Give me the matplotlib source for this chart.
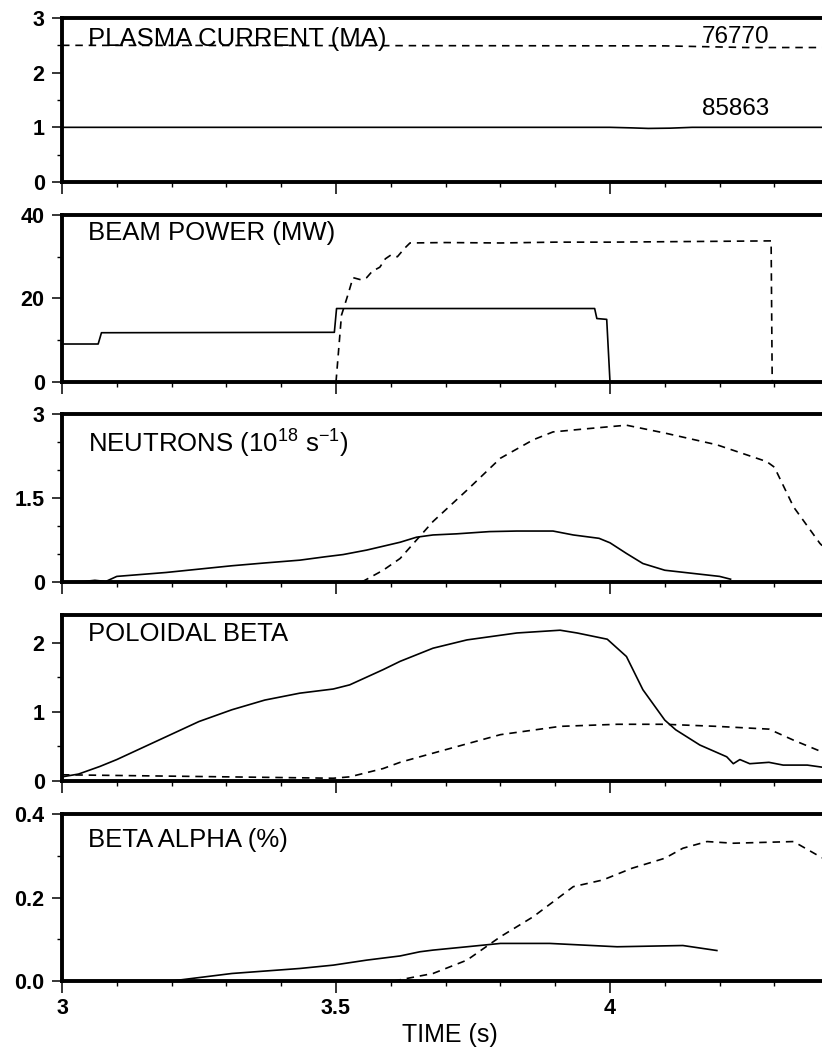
import numpy as np
import matplotlib
matplotlib.use("Agg")
import matplotlib.pyplot as plt
from matplotlib.ticker import MultipleLocator, FixedLocator, FixedFormatter

plt.rcParams["font.family"] = ["Liberation Sans", "DejaVu Sans"]
plt.rcParams["mathtext.fontset"] = "custom"
plt.rcParams["mathtext.rm"] = "Liberation Sans"
plt.rcParams["mathtext.default"] = "regular"

# --- shot 85863 (solid) / shot 76770 (dashed) ---

# plasma current (MA)
t_ip_85863 = [3.0, 4.0, 4.04, 4.07, 4.11, 4.15, 4.387]
ip_85863   = [1.0, 1.0, 0.99, 0.98, 0.985, 1.0, 1.0]
t_ip_76770 = [3.0, 4.1, 4.25, 4.387]
ip_76770   = [2.5, 2.49, 2.46, 2.46]

# beam power (MW)
t_pb_85863 = [3.0, 3.066, 3.072, 3.497, 3.501, 3.972, 3.976, 3.994, 4.0]
pb_85863   = [9.1, 9.1, 11.8, 11.9, 17.6, 17.6, 15.2, 15.0, 0.0]
t_pb_76770 = [3.5, 3.51, 3.522, 3.531, 3.545, 3.556, 3.566, 3.58, 3.59,
              3.60, 3.612, 3.625, 3.635, 3.70, 3.80, 3.90, 4.0, 4.1,
              4.2, 4.294, 4.296]
pb_76770   = [0.0, 16.0, 21.0, 25.0, 24.5, 25.0, 26.5, 27.5, 29.5,
              30.4, 30.0, 32.0, 33.3, 33.4, 33.3, 33.5, 33.5, 33.6,
              33.7, 33.8, 0.0]

# neutrons (1e18 /s)
t_sn_85863 = [3.0, 3.04, 3.06, 3.08, 3.1, 3.19, 3.25, 3.31, 3.37, 3.434,
              3.48, 3.513, 3.556, 3.617, 3.647, 3.677, 3.72, 3.78, 3.83,
              3.896, 3.933, 3.98, 4.0, 4.03, 4.06, 4.1, 4.15, 4.2, 4.22]
sn_85863   = [0.0, 0.01, 0.03, 0.01, 0.1, 0.17, 0.23, 0.29, 0.34, 0.39,
              0.45, 0.49, 0.57, 0.71, 0.80, 0.84, 0.86, 0.90, 0.91,
              0.91, 0.84, 0.78, 0.70, 0.51, 0.33, 0.21, 0.155, 0.10, 0.05]
t_sn_76770 = [3.547, 3.586, 3.617, 3.647, 3.677, 3.739, 3.80, 3.86, 3.896,
              3.95, 4.03, 4.10, 4.195, 4.286, 4.30, 4.335, 4.383, 4.387]
sn_76770   = [0.0, 0.21, 0.42, 0.75, 1.08, 1.64, 2.21, 2.54, 2.68,
              2.73, 2.80, 2.66, 2.45, 2.15, 2.05, 1.34, 0.69, 0.65]

# poloidal beta
t_bp_85863 = [3.0, 3.03, 3.069, 3.1, 3.13, 3.19, 3.25, 3.31, 3.37, 3.434,
              3.495, 3.525, 3.586, 3.617, 3.677, 3.739, 3.83, 3.909, 3.94,
              3.995, 4.03, 4.06, 4.10, 4.12, 4.164, 4.213, 4.225, 4.237,
              4.255, 4.29, 4.316, 4.36, 4.387]
bp_85863   = [0.06, 0.1, 0.21, 0.31, 0.42, 0.64, 0.86, 1.03, 1.17, 1.27,
              1.33, 1.39, 1.61, 1.73, 1.92, 2.04, 2.14, 2.18, 2.14,
              2.05, 1.80, 1.32, 0.88, 0.74, 0.52, 0.35, 0.25, 0.31,
              0.25, 0.27, 0.23, 0.23, 0.20]
t_bp_76770 = [3.0, 3.1, 3.2, 3.3, 3.4, 3.495, 3.525, 3.586, 3.617, 3.653,
              3.708, 3.80, 3.909, 4.013, 4.10, 4.195, 4.29, 4.335, 4.387]
bp_76770   = [0.09, 0.08, 0.07, 0.06, 0.05, 0.04, 0.06, 0.18, 0.27, 0.35,
              0.47, 0.67, 0.79, 0.82, 0.82, 0.79, 0.75, 0.59, 0.42]

# beta alpha (%)
t_ba_85863 = [3.2, 3.31, 3.434, 3.495, 3.556, 3.617, 3.653, 3.677, 3.739,
              3.80, 3.89, 4.013, 4.133, 4.195]
ba_85863   = [0.0, 0.018, 0.030, 0.038, 0.050, 0.060, 0.070, 0.074, 0.082,
              0.090, 0.090, 0.082, 0.085, 0.073]
t_ba_76770 = [3.605, 3.677, 3.739, 3.80, 3.86, 3.933, 3.987, 4.04, 4.10,
              4.133, 4.177, 4.225, 4.335, 4.383, 4.387]
ba_76770   = [0.0, 0.018, 0.05, 0.106, 0.154, 0.226, 0.242, 0.27, 0.294,
              0.318, 0.334, 0.33, 0.334, 0.298, 0.295]

panels = [
    ("PLASMA CURRENT (MA)", t_ip_85863, ip_85863, t_ip_76770, ip_76770),
    ("BEAM POWER (MW)", t_pb_85863, pb_85863, t_pb_76770, pb_76770),
    ("NEUTRONS (10$^{18}$ s$^{-1}$)", t_sn_85863, sn_85863, t_sn_76770, sn_76770),
    ("POLOIDAL BETA", t_bp_85863, bp_85863, t_bp_76770, bp_76770),
    ("BETA ALPHA (%)", t_ba_85863, ba_85863, t_ba_76770, ba_76770),
]
ylims   = [(0, 3), (0, 40), (0, 3), (0, 2.4), (0, 0.4)]
yticks  = [[0, 1, 2, 3], [0, 20, 40], [0, 1.5, 3], [0, 1, 2], [0.0, 0.2, 0.4]]
ylabels = [["0", "1", "2", "3"], ["0", "20", "40"], ["0", "1.5", "3"],
           ["0", "1", "2"], ["0.0", "0.2", "0.4"]]
yminor  = [0.5, 10, 0.5, 0.5, 0.1]
title_y = [0.945, 0.965, 0.92, 0.955, 0.918]

# panel extents in pixels (top, bottom) on an 822x1050 canvas
W, H = 822, 1050
extents = [(18, 182), (215, 382), (414, 582), (615, 781), (814, 981)]
x0 = 62

fig = plt.figure(figsize=(W / 100, H / 100), dpi=100)
axes = []
for (top, bot) in extents:
    ax = fig.add_axes([x0 / W, (H - bot) / H, (W - x0) / W, (bot - top) / H])
    axes.append(ax)

dash = (0, (4.5, 3.5))
for i, (ax, (title, ts, ys, td, yd)) in enumerate(zip(axes, panels)):
    ax.plot(ts, ys, color="black", lw=1.2)
    ax.plot(td, yd, color="black", lw=1.2, ls=dash)
    ax.set_xlim(3, 3 + (W - x0) / 548)
    ax.set_ylim(*ylims[i])
    ax.yaxis.set_major_locator(FixedLocator(yticks[i]))
    ax.yaxis.set_major_formatter(FixedFormatter(ylabels[i]))
    ax.yaxis.set_minor_locator(MultipleLocator(yminor[i]))
    ax.xaxis.set_major_locator(FixedLocator([3, 3.5, 4]))
    ax.xaxis.set_minor_locator(MultipleLocator(0.1))
    ax.tick_params(which="major", direction="out", length=7.5, width=1.1,
                   labelsize=15.5, pad=5)
    ax.tick_params(which="minor", direction="out", length=3.5, width=1.0)
    ax.tick_params(axis="x", which="major", length=8.5, pad=4)
    ax.spines["right"].set_visible(False)
    for s in ["top", "bottom", "left"]:
        ax.spines[s].set_linewidth(2.8)
    for lab in ax.get_yticklabels():
        lab.set_fontweight("bold")
    ax.text(0.034, title_y[i], title, transform=ax.transAxes,
            ha="left", va="top", fontsize=18.5)
    if i < 4:
        ax.tick_params(axis="x", labelbottom=False)
    else:
        ax.set_xticklabels(["3", "3.5", "4"], fontweight="bold")

# shot numbers
axes[0].text(4.168, 2.54, "76770", fontsize=17.5, ha="left", va="baseline")
axes[0].text(4.168, 1.22, "85863", fontsize=17.5, ha="left", va="baseline")

axes[4].set_xlabel("TIME (s)", fontsize=18)
axes[4].xaxis.set_label_coords(0.51, -0.25)

fig.savefig("out.png", dpi=100, facecolor="white")
